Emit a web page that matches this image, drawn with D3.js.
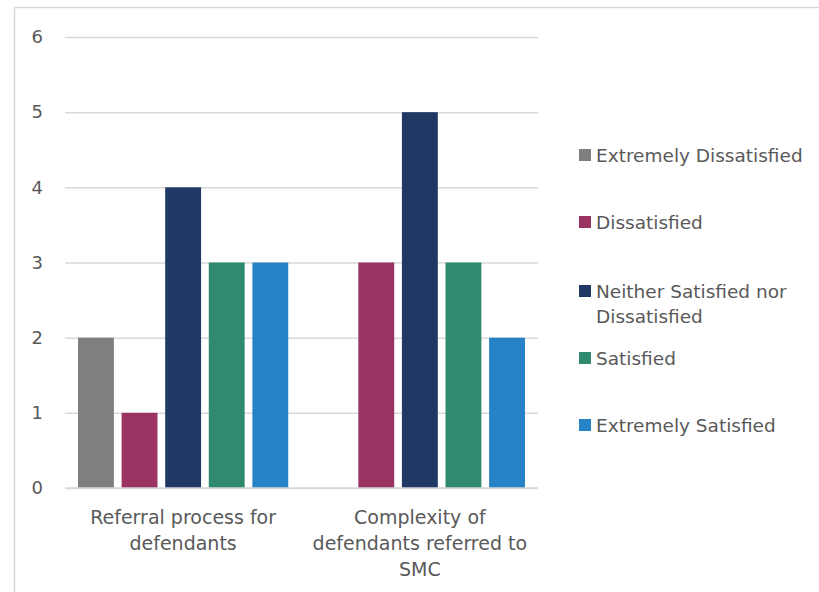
<!DOCTYPE html>
<html><head><meta charset="utf-8">
<script src="https://cdn.jsdelivr.net/npm/d3@7"></script>
<style>body{margin:0;background:#fff;} text{font-family:"DejaVu Sans",sans-serif;fill:#595959;}</style>
</head><body>
<svg id="c" width="819" height="592"></svg>
<script>
const categories = [["Referral process for","defendants"],["Complexity of","defendants referred to","SMC"]];
const seriesNames = ["Extremely Dissatisfied","Dissatisfied","Neither Satisfied nor Dissatisfied","Satisfied","Extremely Satisfied"];
const legendLines = [["Extremely Dissatisfied"],["Dissatisfied"],["Neither Satisfied nor","Dissatisfied"],["Satisfied"],["Extremely Satisfied"]];
const extremelyDissatisfied = [2, 0];
const dissatisfied = [1, 3];
const neither = [4, 5];
const satisfied = [3, 3];
const extremelySatisfied = [3, 2];
const seriesValues = [extremelyDissatisfied, dissatisfied, neither, satisfied, extremelySatisfied];
const colors = ["#7f7f7f","#9a3262","#203864","#2f8a70","#2683c6"];
const yTicks = [0,1,2,3,4,5,6];

const svg = d3.select("#c");
svg.append("rect").attr("x",14.5).attr("y",7.5).attr("width",830).attr("height",620)
  .attr("fill","none").attr("stroke","#d9d9d9").attr("stroke-width",1.5);

const pL=65, pR=538, pT=37, pB=488;
const y = d3.scaleLinear().domain([0,6]).range([pB,pT]);
const x0 = d3.scaleBand().domain(d3.range(categories.length)).range([pL,pR]).paddingInner(0.112).paddingOuter(0.055);
const x1 = d3.scaleBand().domain(d3.range(seriesNames.length)).range([0,x0.bandwidth()]).paddingInner(0.177).paddingOuter(0);

const yAxis = d3.axisLeft(y).tickValues(yTicks).tickSize(-(pR-pL)).tickFormat(d3.format("d"));
const ga = svg.append("g").attr("transform",`translate(${pL},0)`).call(yAxis);
ga.select(".domain").remove();
ga.selectAll(".tick line").attr("stroke","#d9d9d9").attr("stroke-width",1.5);
ga.selectAll(".tick text").attr("x",-22).attr("font-size",18).attr("fill","#595959").attr("text-anchor","end");

categories.forEach((c,ci)=>{
  seriesValues.forEach((vals,si)=>{
    if(vals[ci] > 0){
      svg.append("rect")
        .attr("x", x0(ci)+x1(si))
        .attr("y", y(vals[ci]))
        .attr("width", x1.bandwidth())
        .attr("height", y(0)-y(vals[ci]))
        .attr("fill", colors[si]);
    }
  });
});

svg.append("line").attr("x1",pL).attr("x2",pR).attr("y1",y(0)).attr("y2",y(0)).attr("stroke","#d9d9d9").attr("stroke-width",1.5);

categories.forEach((lines,ci)=>{
  const cx = x0(ci)+x0.bandwidth()/2;
  const t = svg.append("text").attr("text-anchor","middle").attr("font-size",19);
  lines.forEach((l,li)=>{
    t.append("tspan").attr("x",cx).attr("y",524+li*26).text(l);
  });
});

const legY = [155, 222, 291, 358, 425];
legendLines.forEach((lines,i)=>{
  svg.append("rect").attr("x",579).attr("y",legY[i]-6).attr("width",12).attr("height",12).attr("fill",colors[i]);
  const t = svg.append("text").attr("font-size",18.5);
  lines.forEach((l,li)=>{
    t.append("tspan").attr("x",596).attr("y",legY[i]+7+li*25).text(l);
  });
});
</script>
</body></html>
